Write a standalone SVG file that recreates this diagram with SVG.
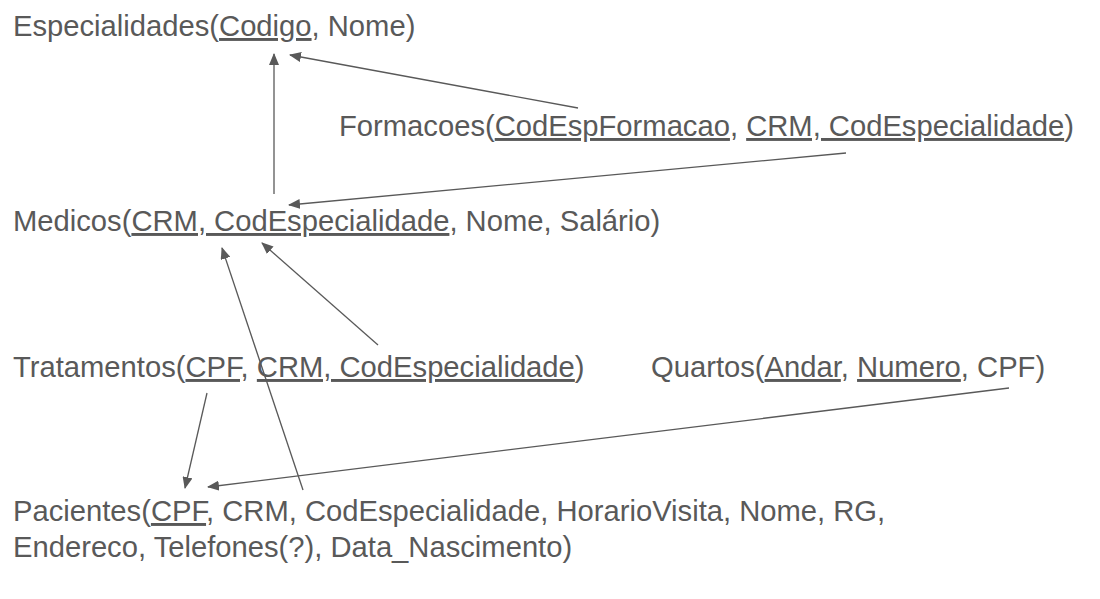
<svg xmlns="http://www.w3.org/2000/svg" width="1100" height="599" viewBox="0 0 1100 599">
<defs>
<style>
.t{font-family:"Liberation Sans",Arial,sans-serif;font-size:29.2px;fill:#595959}
.u{text-decoration:underline}
.c{stroke:#595959;stroke-width:1.3;fill:none;marker-end:url(#ah)}
</style>
<marker id="ah" viewBox="0 0 12 10" refX="11" refY="5" markerWidth="12" markerHeight="10" markerUnits="userSpaceOnUse" orient="auto">
<path d="M0,0 L12,5 L0,10 Z" fill="#595959"/>
</marker>
</defs>
<rect width="1100" height="599" fill="#ffffff"/>
<g id="especialidades"><text class="t" x="13" y="36">Especialidades(<tspan class="u">Codigo</tspan>, Nome)</text></g>
<g id="formacoes"><text class="t" x="339" y="136">Formacoes(<tspan class="u">CodEspFormacao</tspan>, <tspan class="u">CRM, CodEspecialidade</tspan>)</text></g>
<g id="medicos"><text class="t" x="13" y="231">Medicos(<tspan class="u">CRM, CodEspecialidade</tspan>, Nome, Salário)</text></g>
<g id="tratamentos"><text class="t" x="13" y="377">Tratamentos(<tspan class="u">CPF,</tspan> <tspan class="u">CRM, CodEspecialidade</tspan>)</text></g>
<g id="quartos"><text class="t" x="651" y="377">Quartos(<tspan class="u">Andar</tspan>, <tspan class="u">Numero</tspan>, CPF)</text></g>
<g id="pacientes"><text class="t" x="13" y="521">Pacientes(<tspan class="u">CPF</tspan>, CRM, CodEspecialidade, HorarioVisita, Nome, RG,</text><text class="t" x="13" y="557">Endereco, Telefones(?), Data_Nascimento)</text></g>
<g id="connectors">
<line class="c" x1="274" y1="194" x2="274" y2="54"/>
<line class="c" x1="578" y1="108" x2="290" y2="55"/>
<line class="c" x1="846" y1="153" x2="289" y2="205"/>
<line class="c" x1="378" y1="345" x2="262" y2="243"/>
<line class="c" x1="303" y1="490" x2="222" y2="248"/>
<line class="c" x1="207" y1="393" x2="185" y2="488"/>
<line class="c" x1="1009" y1="388" x2="208" y2="487"/>
</g>
</svg>
